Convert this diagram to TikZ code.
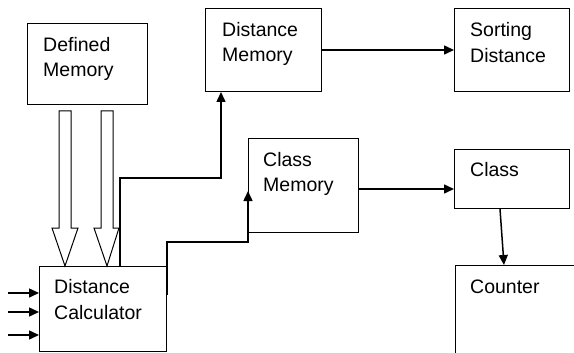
\documentclass[tikz,border=0pt]{standalone}
\usepackage{fontspec}
\setmainfont{Liberation Sans}
\usetikzlibrary{arrows.meta}
\tikzset{
  box/.style={draw, line width=1pt, rectangle, inner sep=0pt, anchor=north west},
  txt/.style={anchor=base west, inner sep=0pt, font=\fontsize{19.5}{25}\selectfont},
  arr/.style={line width=1.5pt, -{Triangle[length=10pt,width=9pt]}},
  hollow/.style={draw, line width=1pt, fill=white, line join=miter},
}
\begin{document}
\begin{tikzpicture}[x=1pt,y=-1pt]
\useasboundingbox (0,0) rectangle (574,353);
\clip (0,0) rectangle (574,353);
% boxes
\node[box, minimum width=120pt, minimum height=81pt] (def) at (27,23) {};
\node[box, minimum width=116pt, minimum height=83pt] (dm) at (205,8) {};
\node[box, minimum width=115pt, minimum height=83pt] (sd) at (454,8) {};
\node[box, minimum width=110pt, minimum height=94pt] (cm) at (248,138) {};
\node[box, minimum width=115pt, minimum height=59pt] (cl) at (454,149) {};
\node[box, minimum width=127pt, minimum height=85pt] (dc) at (39,266) {};
\node[inner sep=0pt, minimum width=130pt, minimum height=100pt, anchor=north west] (co) at (455,265) {};
\draw[line width=1pt] (co.south west) -- (co.north west) -- (co.north east);
% texts
\node[txt] (t1) at (43,52) {Defined};
\node[txt] (t2) at (43,77) {Memory};
\node[txt] (t3) at (222,37) {Distance};
\node[txt] (t4) at (222,62) {Memory};
\node[txt] (t5) at (470,37) {Sorting};
\node[txt] (t6) at (470,63) {Distance};
\node[txt] (t7) at (263,167) {Class};
\node[txt] (t8) at (263,192) {Memory};
\node[txt] (t9) at (470,176) {Class};
\node[txt] (t10) at (470,293) {Counter};
\node[txt] (t11) at (54,293) {Distance};
\node[txt] (t12) at (54,319) {Calculator};
% hollow block arrows
\draw[hollow] (59,111) -- (71,111) -- (71,228) -- (78,228) -- (65,266) -- (52,228) -- (59,228) -- cycle;
\draw[hollow] (101,111) -- (113,111) -- (113,228) -- (119,228) -- (107,266) -- (94,228) -- (101,228) -- cycle;
% connectors
\draw[arr] (dc.north -| 120,0) -- (120,178) -- (221,178) -- (dm.south -| 221,0);
\coordinate (cmin) at (248,191);
\draw[arr] (dc.east |- 0,295) -- (dc.east |- 0,242) -- (cmin |- 0,242) -- (cmin);
\draw[arr] (dm.east) -- (sd.west |- dm.east);
\draw[arr] (cm.east |- 0,189) -- (cl.west |- 0,189);
\draw[arr] (cl.south -| 500,0) -- (co.north -| 504,0);
\coordinate (in1) at (8,293);
\coordinate (in2) at (8,312);
\coordinate (in3) at (8,335);
\draw[arr] (in1) -- (dc.west |- in1);
\draw[arr] (in2) -- (dc.west |- in2);
\draw[arr] (in3) -- (dc.west |- in3);
\end{tikzpicture}
\end{document}
